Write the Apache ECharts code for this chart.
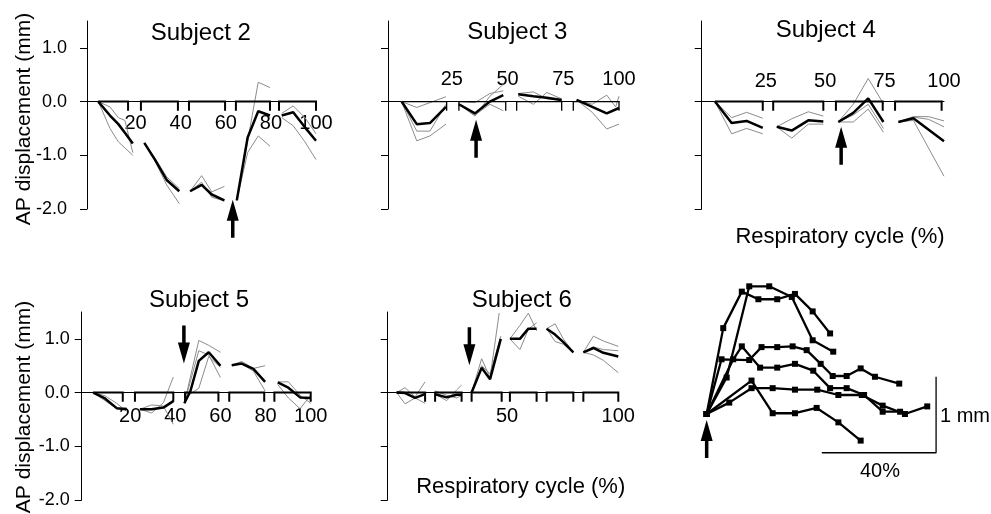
<!DOCTYPE html>
<html><head><meta charset="utf-8">
<script src="https://cdn.jsdelivr.net/npm/echarts@6/dist/echarts.min.js"></script>
<style>html,body{margin:0;padding:0;background:#fff}#c{width:991px;height:514px}</style>
</head><body><div id="c"></div>
<script>
// ---------------- data ----------------
const yTicks = [-2, -1, 0, 1];
const xTicksA = [20, 40, 60, 80, 100];
const xTicksB = [25, 50, 75, 100];
const xTicksC = [50, 100];

// Subject 2
const s2Bins = [[3.4,16.7],[22.4,38.8],[43.7,59.7],[64.5,79.6],[83.6,100]];
const s2Mean = [
 [[3.5,0],[8.7,-0.26],[12.4,-0.42],[15.3,-0.58],[18.8,-0.78]],
 [[23.9,-0.77],[28.6,-1.08],[33.8,-1.46],[39.4,-1.67]],
 [[44.2,-1.67],[49.3,-1.55],[53.8,-1.73],[59.4,-1.84]],
 [[64.9,-1.84],[69.7,-0.67],[74.4,-0.18],[79.6,-0.26]],
 [[84.8,-0.26],[89.9,-0.2],[95.1,-0.48],[100,-0.73]]
];
const s2Trials = [
 [[3.5,0],[8.7,-0.5],[12.4,-0.75],[18.8,-1.0]],
 [[3.5,0],[8.7,-0.1],[12.4,-0.3],[15.3,-0.35],[18.8,-0.95]],
 [[23.9,-0.77],[28.6,-1.1],[33.8,-1.55],[39.4,-1.9]],
 [[23.9,-0.77],[28.6,-1.05],[33.8,-1.4],[39.4,-1.62]],
 [[44.2,-1.67],[49.3,-1.38],[53.8,-1.68],[59.4,-1.58]],
 [[44.2,-1.67],[49.3,-1.5],[53.8,-1.78],[59.4,-1.85]],
 [[64.9,-1.84],[74.4,0.36],[79.6,0.26]],
 [[64.9,-1.84],[69.7,-0.95],[74.4,-0.64],[79.6,-0.83]],
 [[84.8,-0.22],[89.9,-0.08],[95.1,-0.3],[100,-0.6]],
 [[84.8,-0.3],[89.9,-0.45],[95.1,-0.75],[100,-1.08]]
];
const s2Arrow = [63.1, -1.83];

// Subject 3
const s3Bins = [[2.5,22.7],[28.2,49.2],[54.1,74.3],[79.5,100]];
const s3Mean = [
 [[2.5,0],[9.3,-0.42],[15.2,-0.4],[22.4,-0.1]],
 [[28.2,-0.05],[35.4,-0.22],[42.1,0],[48.1,0.12]],
 [[54.8,0.135],[61.6,0.1],[67.6,0.07],[74.3,0.03]],
 [[81,0.03],[88,-0.1],[94.5,-0.22],[100,-0.12]]
];
const s3Trials = [
 [[2.5,0],[9.3,-0.73],[15.2,-0.64],[22.4,-0.42]],
 [[2.5,0],[9.3,-0.11],[15.2,-0.02],[22.4,0.09]],
 [[2.5,0],[9.3,-0.55],[15.2,-0.55],[22.4,-0.05]],
 [[28.2,-0.05],[35.4,-0.27],[42.1,0.1],[48.1,0.32]],
 [[28.2,-0.05],[35.4,-0.25],[42.1,-0.05],[48.1,-0.17]],
 [[28.2,0],[35.4,-0.02],[42.1,0.15],[48.1,0.2]],
 [[54.8,0.1],[61.6,-0.05],[67.6,0.17],[74.3,0.05]],
 [[54.8,0.15],[61.6,0.18],[67.6,0.05],[74.3,0.02]],
 [[81,0.03],[88,-0.2],[94.5,-0.51],[100,-0.42]],
 [[81,0.03],[88,-0.05],[94.5,0.12],[98.5,-0.1],[100,0.1]]
];
const s3Arrow = [35.9, -0.34];

// Subject 4
const s4Bins = [[3.6,23.7],[28.1,49.2],[54.5,74.2],[79.4,99]];
const s4Mean = [
 [[3.6,0],[10.6,-0.4],[16.9,-0.36],[23.7,-0.49]],
 [[29.6,-0.47],[35.9,-0.54],[42.9,-0.35],[49.2,-0.37]],
 [[55.5,-0.38],[61.8,-0.21],[68.1,0.06],[74.5,-0.38]],
 [[80.8,-0.38],[87.1,-0.31],[100,-0.74]]
];
const s4Trials = [
 [[3.6,0],[10.6,-0.3],[16.9,-0.2],[23.7,-0.31]],
 [[3.6,0],[10.6,-0.6],[16.9,-0.5],[23.7,-0.6]],
 [[29.6,-0.47],[35.9,-0.32],[42.9,-0.19],[49.2,-0.27]],
 [[29.6,-0.47],[35.9,-0.68],[42.9,-0.42],[49.2,-0.42]],
 [[55.5,-0.38],[61.8,-0.05],[68.1,0.43],[74.5,-0.04]],
 [[55.5,-0.38],[61.8,-0.38],[68.1,-0.14],[74.5,-0.57]],
 [[55.5,-0.38],[61.8,-0.25],[68.1,-0.05],[74.5,-0.5]],
 [[80.8,-0.38],[87.1,-0.28],[93.5,-0.28],[100,-0.36]],
 [[80.8,-0.38],[87.1,-0.29],[93.5,-0.33],[100,-0.47]],
 [[80.8,-0.38],[87.1,-0.35],[100,-1.39]]
];
const s4Arrow = [56.7, -0.47];

// Subject 5
const s5Bins = [[3.6,16.7],[22.1,39.1],[44.3,59.1],[63.9,79.4],[83.9,100]];
const s5Mean = [
 [[3.6,0],[8.8,-0.11],[14,-0.29],[18.4,-0.31]],
 [[24.3,-0.31],[29.5,-0.31],[34.7,-0.28],[39.1,-0.16]],
 [[44,-0.2],[46.7,0.03],[50.4,0.59],[54.8,0.75],[60,0.5]],
 [[65,0.51],[69.4,0.54],[74.6,0.44],[79.8,0.2]],
 [[85.4,0.19],[90.1,0.09],[95.3,-0.09],[100,-0.1]]
];
const s5Trials = [
 [[3.6,0],[8.8,-0.06],[14,-0.2],[18.4,-0.35]],
 [[3.6,0],[8.8,-0.15],[14,-0.3],[18.4,-0.28]],
 [[24.3,-0.31],[29.5,-0.38],[34.7,-0.19],[39.1,0.29]],
 [[24.3,-0.31],[29.5,-0.23],[34.7,-0.25],[39.1,-0.59]],
 [[44,-0.2],[50.4,0.97],[54.8,0.88],[60,0.75]],
 [[44,-0.2],[50.4,0.78],[54.8,0.7],[60,0.28]],
 [[44,-0.1],[50.4,0.08],[54.8,0.67],[60,0.47]],
 [[65,0.51],[69.4,0.58],[74.6,0.45],[79.8,0.5]],
 [[65,0.51],[69.4,0.53],[74.6,0.4],[79.8,0.03]],
 [[85.4,0.2],[90.1,0.2],[95.3,-0.05],[100,-0.2]],
 [[85.4,0.15],[90.1,-0.1],[95.3,-0.3],[100,-0.05]]
];
const s5Arrow = [43.8, 0.54];

// Subject 6
const s6Bins = [[0.4,13.2],[17.7,29.6],[34.1,47.6],[51.3,63.3],[67.8,79.8],[84.3,100]];
const s6Mean = [
 [[0.4,0],[4.2,-0.01],[8.7,-0.1],[13.2,-0.03]],
 [[17.7,-0.03],[22.9,-0.09],[27.4,-0.04],[29.6,-0.04]],
 [[34.1,0],[38.6,0.46],[42.4,0.25],[47.2,1.0]],
 [[51.3,1.0],[55.8,1.0],[59.6,1.19],[63.3,1.19]],
 [[67.8,1.19],[71.6,1.08],[75.3,0.94],[79.8,0.75]],
 [[84.3,0.75],[88.8,0.83],[93.3,0.74],[100,0.67]]
];
const s6Trials = [
 [[0.4,0],[4.2,0.09],[8.7,-0.08],[13.2,0.2]],
 [[0.4,0],[4.2,-0.21],[8.7,-0.1],[13.2,-0.2]],
 [[17.7,-0.03],[22.9,-0.15],[27.4,0.05],[29.6,0.14]],
 [[17.7,0.03],[22.9,-0.05],[27.4,-0.1],[29.6,-0.05]],
 [[34.1,0],[38.6,0.63],[42.4,0.28],[46.5,1.48]],
 [[34.1,0],[38.6,0.5],[42.4,0.35],[47.2,1.05]],
 [[51.3,1.0],[55.8,1.25],[59.6,1.48],[63.3,1.15]],
 [[51.3,1.0],[55.8,0.8],[59.6,1.18],[63.3,1.3]],
 [[67.8,1.19],[71.6,1.28],[75.3,1.0],[79.8,0.75]],
 [[67.8,1.19],[71.6,0.95],[75.3,0.9],[79.8,0.75]],
 [[84.3,0.75],[88.8,1.05],[93.3,0.96],[100,0.86]],
 [[84.3,0.75],[88.8,0.7],[93.3,0.6],[100,0.37]],
 [[84.3,0.75],[88.8,0.85],[93.3,0.8],[100,0.78]]
];
const s6Arrow = [33.1, 0.51];

// Aligned averages (bottom right)
const avgLines = [
 [[0,0],[5.8,1.13],[12.3,1.61],[18.1,1.51],[24.7,1.51],[30.9,1.58],[37.1,1.35],[43.2,1.06]],
 [[0,0],[7,0.48],[14.9,1.68],[21.9,1.68],[29.8,1.54],[37.1,0.97],[44.3,0.82]],
 [[0,0],[5.2,0.72],[14.9,0.71],[19.2,0.88],[24.7,0.88],[30.1,0.89],[35,0.84],[39.9,0.66],[44.1,0.5],[49,0.5],[53.9,0.6],[58.9,0.49],[67.4,0.4]],
 [[0,0],[9.3,0.72],[12.3,0.89],[18.7,0.61],[24.7,0.61],[30.9,0.66],[37.3,0.57],[43.2,0.34],[49,0.34],[55.1,0.25],[61.6,0.03],[67.7,0.03]],
 [[0,0],[7.9,0.15],[15.7,0.34],[23.1,0.34],[30.9,0.32],[38.7,0.32],[46.1,0.25],[54.3,0.25],[61.6,0.11],[69.4,0],[77.2,0.1]],
 [[0,0],[15.7,0.44],[23.1,0.01],[30.9,0.01],[38.5,0.08],[46.1,-0.11],[53.9,-0.35]]
];
const avgArrow = [0, -0.08];
const scaleBar = [[40.3,-0.51],[80.3,-0.51],[80.3,0.49]];

// ---------------- layout ----------------
const FONT = '"Liberation Sans", Arial, Helvetica, sans-serif';
const grids = [
  {left: 87,    top: 21,  width: 229,   height: 188, xmin: -1.5},
  {left: 388,   top: 21,  width: 231,   height: 188, xmin: -3.6},
  {left: 701.7, top: 21,  width: 242.3, height: 188, xmin: -2},
  {left: 81.7,  top: 312, width: 229,   height: 188, xmin: -1.5},
  {left: 387.7, top: 312, width: 230.6, height: 188, xmin: -3.6},
  {left: 678.1, top: 262, width: 285.7, height: 228, xmin: -10}
];
const xCfg = [
  {ticks: xTicksA, inside: false, margin: 12},
  {ticks: xTicksB, inside: true,  margin: 12},
  {ticks: xTicksB, inside: true,  margin: 10},
  {ticks: xTicksA, inside: false, margin: 14},
  {ticks: xTicksC, inside: false, margin: 14}
];
const yLabelShow = [true, false, false, true, false];
const yLabelMargin = [20, 12, 12, 12, 12];
const YMIN = -2, YMAX = 1.5;

const xAxis = [], yAxis = [], series = [];
grids.forEach((g, i) => {
  if (i < 5) {
    // place x axis on the zero line of the y scale
    const zeroOffset = -g.height * (0 - YMIN) / (YMAX - YMIN);
    xAxis.push({type: 'value', gridIndex: i, min: g.xmin, max: 100, position: 'bottom', offset: zeroOffset,
      axisLine: {show: true, onZero: false, lineStyle: {color: '#000', width: 1}},
      axisTick: {show: false}, splitLine: {show: false},
      axisLabel: {show: true, customValues: xCfg[i].ticks, inside: xCfg[i].inside, margin: xCfg[i].margin,
        color: '#000', fontSize: 20, fontFamily: FONT}});
    yAxis.push({type: 'value', gridIndex: i, min: YMIN, max: YMAX,
      axisLine: {show: true, onZero: false, lineStyle: {color: '#000', width: 1}},
      axisTick: {show: true, customValues: yTicks, length: 7, lineStyle: {color: '#000'}},
      splitLine: {show: false},
      axisLabel: {show: yLabelShow[i], customValues: yTicks, margin: yLabelMargin[i], color: '#000', fontSize: 18,
        fontFamily: FONT, formatter: v => v.toFixed(1)}});
  } else {
    xAxis.push({type: 'value', gridIndex: i, min: g.xmin, max: 90, show: false});
    yAxis.push({type: 'value', gridIndex: i, min: -1, max: 2, show: false});
  }
});

const TICK = 0.17;
function addPanel(gi, bins, mean, trials, bracketW) {
  trials.forEach(d => series.push({type: 'line', xAxisIndex: gi, yAxisIndex: gi, data: d, symbol: 'none',
    lineStyle: {color: '#8c8c8c', width: 1}, z: 2, silent: true}));
  bins.forEach((b, k) => {
    const d = k === 0 ? [[b[0],0],[b[1],0],[b[1],-TICK]] : [[b[0],-TICK],[b[0],0],[b[1],0],[b[1],-TICK]];
    series.push({type: 'line', xAxisIndex: gi, yAxisIndex: gi, data: d, symbol: 'none',
      lineStyle: {color: '#000', width: bracketW, cap: 'butt', join: 'miter'}, z: 3, silent: true});
  });
  mean.forEach(d => series.push({type: 'line', xAxisIndex: gi, yAxisIndex: gi, data: d, symbol: 'none',
    lineStyle: {color: '#000', width: 2.5}, z: 4, silent: true}));
}
addPanel(0, s2Bins, s2Mean, s2Trials, 2);
addPanel(1, s3Bins, s3Mean, s3Trials, 1.3);
addPanel(2, s4Bins, s4Mean, s4Trials, 2);
addPanel(3, s5Bins, s5Mean, s5Trials, 2);
addPanel(4, s6Bins, s6Mean, s6Trials, 2);

avgLines.forEach(d => series.push({type: 'line', xAxisIndex: 5, yAxisIndex: 5, data: d,
  symbol: 'rect', symbolSize: 6, showSymbol: true, itemStyle: {color: '#000', opacity: 1},
  lineStyle: {color: '#000', width: 2.3}, z: 4, silent: true}));
series.push({type: 'line', xAxisIndex: 5, yAxisIndex: 5, data: scaleBar, symbol: 'none',
  lineStyle: {color: '#000', width: 1.3}, z: 3, silent: true});

const UP = 'path://M4.25,38 L7.75,38 L7.75,21 L12,21 L6,0 L0,21 L4.25,21 Z';
const DOWN = 'path://M4.25,0 L7.75,0 L7.75,17 L12,17 L6,38 L0,17 L4.25,17 Z';
[[0, s2Arrow, 'up'], [1, s3Arrow, 'up'], [2, s4Arrow, 'up'], [3, s5Arrow, 'down'], [4, s6Arrow, 'down'], [5, avgArrow, 'up']]
  .forEach(([gi, p, dir]) => series.push({type: 'scatter', xAxisIndex: gi, yAxisIndex: gi, data: [p],
    symbol: dir === 'up' ? UP : DOWN, symbolSize: [12, 38], symbolOffset: [0, dir === 'up' ? 19 : -19],
    itemStyle: {color: '#000', opacity: 1}, clip: false, z: 6, silent: true}));

function txt(text, x, y, size, opts) {
  return Object.assign({type: 'text', x: x, y: y, silent: true,
    style: {text: text, fill: '#000', font: size + 'px ' + FONT, align: 'center', verticalAlign: 'middle'}}, opts || {});
}
const graphic = [
  txt('Subject 2', 200.8, 33.3, 24),
  txt('Subject 3', 517.3, 32.3, 24),
  txt('Subject 4', 825.7, 30.7, 24),
  txt('Subject 5', 199, 300.7, 24),
  txt('Subject 6', 521.7, 300, 24),
  txt('Respiratory cycle (%)', 840, 236.7, 22),
  txt('Respiratory cycle (%)', 520.7, 486.7, 22),
  txt('AP displacement (mm)', 24, 119, 21, {rotation: Math.PI / 2}),
  txt('AP displacement (mm)', 24, 407, 21, {rotation: Math.PI / 2}),
  txt('40%', 880, 471.7, 20),
  {type: 'text', x: 940, y: 416.7, silent: true,
   style: {text: '1 mm', fill: '#000', font: '20px ' + FONT, align: 'left', verticalAlign: 'middle'}}
];

const chart = echarts.init(document.getElementById('c'), null, {renderer: 'canvas'});
chart.setOption({
  animation: false,
  backgroundColor: '#fff',
  grid: grids.map(g => ({left: g.left, top: g.top, width: g.width, height: g.height, containLabel: false})),
  xAxis: xAxis, yAxis: yAxis, series: series, graphic: graphic
});
</script></body></html>
